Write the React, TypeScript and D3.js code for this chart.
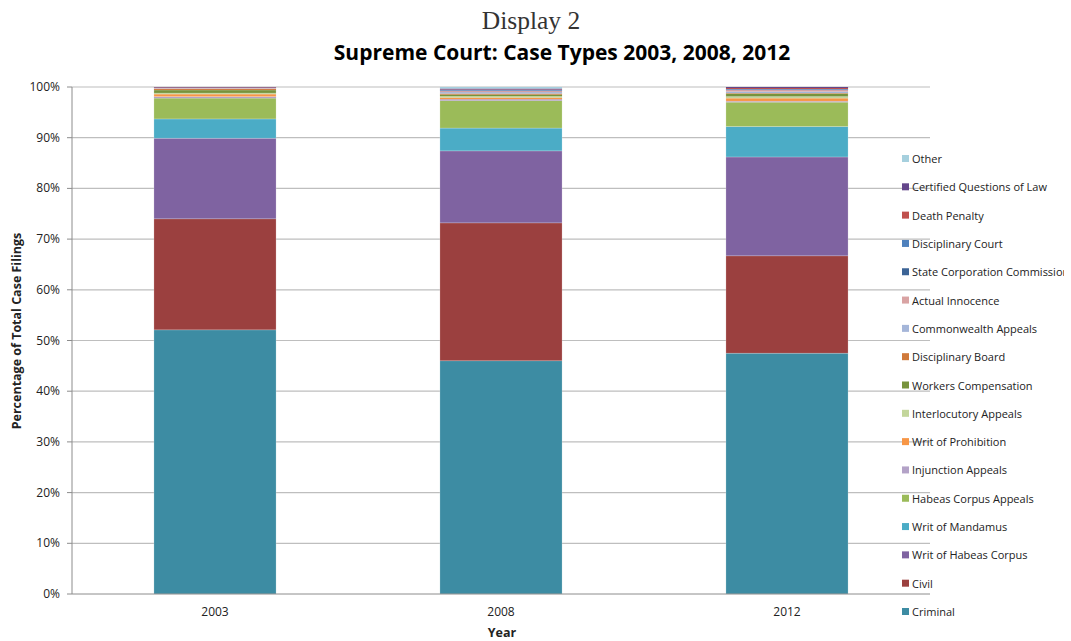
import React from "react";
import * as d3 from "d3";

const years = ["2003", "2008", "2012"];

const seriesNames = [
  "Criminal",
  "Civil",
  "Writ of Habeas Corpus",
  "Writ of Mandamus",
  "Habeas Corpus Appeals",
  "Injunction Appeals",
  "Writ of Prohibition",
  "Interlocutory Appeals",
  "Workers Compensation",
  "Disciplinary Board",
  "Commonwealth Appeals",
  "Actual Innocence",
  "State Corporation Commission",
  "Disciplinary Court",
  "Death Penalty",
  "Certified Questions of Law",
  "Other",
];

const seriesColors = [
  "#3D8CA3",
  "#9B403F",
  "#7F63A1",
  "#4BACC6",
  "#9BBB59",
  "#B3A2C7",
  "#F79646",
  "#C3D69B",
  "#77933C",
  "#D0793A",
  "#A5B6D9",
  "#D9A3A3",
  "#3C6496",
  "#4F81BD",
  "#C0504D",
  "#64468B",
  "#A6D0DE",
];

// percentages per year, in series order
const values2003 = [52.1, 21.9, 15.9, 3.8, 4.1, 0.3, 0.5, 0.2, 0.6, 0.2, 0.1, 0.1, 0.0, 0.0, 0.1, 0.1, 0.0];
const values2008 = [46.0, 27.2, 14.2, 4.5, 5.4, 0.3, 0.3, 0.3, 0.3, 0.2, 0.3, 0.2, 0.1, 0.1, 0.1, 0.2, 0.3];
const values2012 = [47.5, 19.2, 19.5, 6.0, 4.8, 0.2, 0.6, 0.3, 0.6, 0.1, 0.3, 0.3, 0.1, 0.1, 0.2, 0.2, 0.0];

const yTicks = [0, 10, 20, 30, 40, 50, 60, 70, 80, 90, 100];

const W = 1071;
const H = 641;

export default function App() {
  const table = years.map((y, i) => {
    const vals = [values2003, values2008, values2012][i];
    const row: any = { year: y };
    seriesNames.forEach((s, j) => (row[s] = vals[j]));
    return row;
  });
  const stacked = d3.stack<any>().keys(seriesNames)(table);

  const x = d3.scaleBand().domain(years).range([72, 930]).paddingInner(0.573).paddingOuter(0.2865);
  const y = d3.scaleLinear().domain([0, 100]).range([594, 87]);

  const legendY = d3
    .scalePoint<string>()
    .domain([...seriesNames].reverse())
    .range([159, 612]);

  const font = "'Open Sans', 'Liberation Sans', Arial, sans-serif";

  return (
    <svg
      width={W}
      height={H}
      style={{ position: "absolute", left: 0, top: 0, background: "#fff" }}
      fontFamily={font}
    >
      <text x={531} y={29} textAnchor="middle" fontFamily="'Liberation Serif', 'Times New Roman', serif" fontSize={25.5} fill="#333">
        Display 2
      </text>
      <text x={562} y={60} textAnchor="middle" fontWeight="bold" fontSize={21} fill="#000">
        Supreme Court: Case Types 2003, 2008, 2012
      </text>

      {yTicks.map((t) => (
        <g key={t}>
          {t > 0 && <line x1={72} x2={930} y1={y(t)} y2={y(t)} stroke="#BEBEBE" strokeWidth={1.2} />}
          <line x1={67} x2={72} y1={y(t)} y2={y(t)} stroke="#8C8C8C" strokeWidth={1} />
          <text x={60} y={y(t) + 4} textAnchor="end" fontSize={12} fill="#222">
            {t}%
          </text>
        </g>
      ))}

      {stacked.map((layer, i) => (
        <g key={layer.key} fill={seriesColors[i]}>
          {layer.map((d, j) => {
            const h = y(d[0]) - y(d[1]);
            if (h <= 0) return null;
            return (
              <rect
                key={j}
                x={x(years[j])}
                y={y(d[1])}
                width={x.bandwidth()}
                height={h}
                stroke={h > 2 ? "rgba(255,255,255,0.35)" : "none"}
                strokeWidth={0.6}
              />
            );
          })}
        </g>
      ))}

      <line x1={72} x2={72} y1={87} y2={594} stroke="#8C8C8C" strokeWidth={1} />
      <line x1={72} x2={930} y1={594} y2={594} stroke="#8C8C8C" strokeWidth={1} />

      {years.map((yr) => (
        <text key={yr} x={(x(yr) as number) + x.bandwidth() / 2} y={616} textAnchor="middle" fontSize={12} fill="#222">
          {yr}
        </text>
      ))}

      <text x={502} y={637} textAnchor="middle" fontWeight="bold" fontSize={12.5} fill="#222">
        Year
      </text>
      <text
        transform={`translate(21,331) rotate(-90)`}
        textAnchor="middle"
        fontWeight="bold"
        fontSize={12.5}
        fill="#222"
      >
        Percentage of Total Case Filings
      </text>

      <defs>
        <clipPath id="legclip">
          <rect x={0} y={0} width={1064} height={H} />
        </clipPath>
      </defs>
      <g clipPath="url(#legclip)">
        {seriesNames.map((s, i) => (
          <g key={s} transform={`translate(902,${legendY(s)})`}>
            <rect x={0} y={-4} width={7} height={7} fill={seriesColors[i]} />
            <text x={10} y={4} fontSize={11} fill="#222">
              {s}
            </text>
          </g>
        ))}
      </g>
    </svg>
  );
}
